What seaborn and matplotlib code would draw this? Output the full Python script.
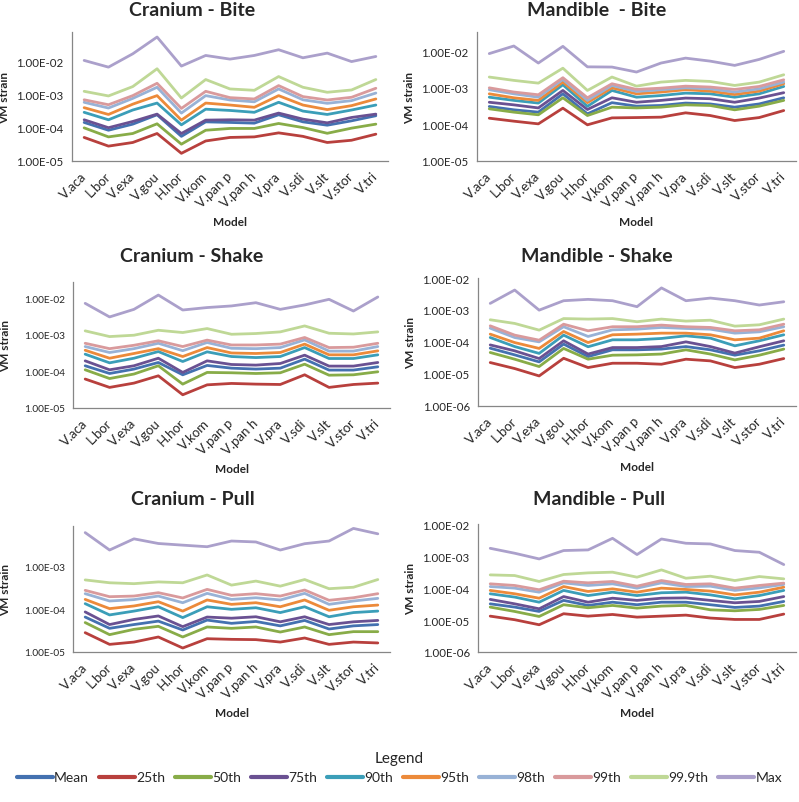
import seaborn as sns
import matplotlib.pyplot as plt
import matplotlib.ticker as mticker
import pandas as pd

models = ["V.aca", "L.bor", "V.exa", "V.gou", "H.hor", "V.kom", "V.pan p",
          "V.pan h", "V.pra", "V.sdi", "V.slt", "V.stor", "V.tri"]
stats = ["Mean", "25th", "50th", "75th", "90th", "95th", "98th", "99th", "99.9th", "Max"]

# VM strain per statistic, one value per model
cranium_bite = {
    "Mean":   [1.44e-4, 8.4e-5, 1.28e-4, 2.45e-4, 5.5e-5, 1.5e-4, 1.44e-4, 1.37e-4, 2.45e-4, 1.5e-4, 1.19e-4, 1.61e-4, 2.29e-4],
    "25th":   [5.1e-5, 2.8e-5, 3.6e-5, 6.7e-5, 1.7e-5, 4.0e-5, 5.1e-5, 5.3e-5, 7.0e-5, 5.5e-5, 3.6e-5, 4.2e-5, 6.4e-5],
    "50th":   [9.9e-5, 5.3e-5, 6.7e-5, 1.31e-4, 3.2e-5, 8.4e-5, 9.5e-5, 9.5e-5, 1.34e-4, 1.01e-4, 6.8e-5, 9.7e-5, 1.28e-4],
    "75th":   [1.73e-4, 1.0e-4, 1.54e-4, 2.56e-4, 6.7e-5, 1.69e-4, 1.73e-4, 1.69e-4, 2.75e-4, 1.81e-4, 1.4e-4, 2.03e-4, 2.56e-4],
    "90th":   [2.9e-4, 1.73e-4, 3.4e-4, 5.5e-4, 1.22e-4, 3.6e-4, 3.3e-4, 2.9e-4, 5.8e-4, 3.16e-4, 2.5e-4, 3.4e-4, 4.8e-4],
    "95th":   [4.0e-4, 2.5e-4, 5.1e-4, 9.2e-4, 1.69e-4, 5.5e-4, 4.8e-4, 4.1e-4, 9.2e-4, 4.8e-4, 3.5e-4, 4.6e-4, 7.3e-4],
    "98th":   [5.8e-4, 3.9e-4, 7.6e-4, 1.64e-3, 2.75e-4, 9.2e-4, 6.8e-4, 6.0e-4, 1.46e-3, 6.9e-4, 5.4e-4, 6.5e-4, 1.1e-3],
    "99th":   [6.9e-4, 4.9e-4, 9.2e-4, 2.16e-3, 3.8e-4, 1.24e-3, 8.0e-4, 7.3e-4, 1.84e-3, 8.6e-4, 6.8e-4, 8.2e-4, 1.53e-3],
    "99.9th": [1.24e-3, 9.0e-4, 1.72e-3, 5.9e-3, 7.8e-4, 2.8e-3, 1.46e-3, 1.33e-3, 3.44e-3, 1.64e-3, 1.16e-3, 1.36e-3, 2.8e-3],
    "Max":    [1.05e-2, 6.6e-3, 1.66e-2, 5.3e-2, 7.1e-3, 1.48e-2, 1.15e-2, 1.48e-2, 2.2e-2, 1.26e-2, 1.74e-2, 9.7e-3, 1.38e-2],
}
mandible_bite = {
    "Mean":   [3.07e-4, 2.49e-4, 2.15e-4, 6.8e-4, 1.93e-4, 3.9e-4, 3.13e-4, 3.27e-4, 3.8e-4, 3.6e-4, 2.94e-4, 3.6e-4, 5.3e-4],
    "25th":   [1.47e-4, 1.22e-4, 1.03e-4, 2.76e-4, 9.7e-5, 1.5e-4, 1.53e-4, 1.57e-4, 2.06e-4, 1.74e-4, 1.27e-4, 1.53e-4, 2.38e-4],
    "50th":   [2.65e-4, 2.15e-4, 1.82e-4, 5.3e-4, 1.74e-4, 2.94e-4, 2.8e-4, 2.94e-4, 3.4e-4, 3.27e-4, 2.49e-4, 3.13e-4, 4.5e-4],
    "75th":   [4.0e-4, 3.4e-4, 2.8e-4, 8.4e-4, 2.54e-4, 5.3e-4, 4.0e-4, 4.5e-4, 5.2e-4, 5.0e-4, 4.0e-4, 5.2e-4, 7.3e-4],
    "90th":   [5.5e-4, 4.5e-4, 3.8e-4, 1.2e-3, 3.1e-4, 8.4e-4, 5.5e-4, 6.1e-4, 7.1e-4, 6.8e-4, 5.5e-4, 6.8e-4, 1.08e-3],
    "95th":   [6.8e-4, 5.3e-4, 4.5e-4, 1.42e-3, 3.9e-4, 9.9e-4, 6.8e-4, 7.6e-4, 8.8e-4, 8.05e-4, 6.5e-4, 8.05e-4, 1.28e-3],
    "98th":   [8.8e-4, 6.8e-4, 5.5e-4, 1.68e-3, 4.5e-4, 1.15e-3, 7.9e-4, 8.8e-4, 9.9e-4, 9.3e-4, 7.6e-4, 9.3e-4, 1.42e-3],
    "99th":   [9.9e-4, 7.6e-4, 6.4e-4, 1.87e-3, 5.3e-4, 1.28e-3, 8.95e-4, 9.7e-4, 1.1e-3, 1.04e-3, 8.95e-4, 1.08e-3, 1.64e-3],
    "99.9th": [1.95e-3, 1.58e-3, 1.33e-3, 3.4e-3, 8.4e-4, 1.95e-3, 1.1e-3, 1.42e-3, 1.58e-3, 1.48e-3, 1.15e-3, 1.42e-3, 2.25e-3],
    "Max":    [8.5e-3, 1.37e-2, 4.7e-3, 1.34e-2, 3.7e-3, 3.65e-3, 2.67e-3, 4.7e-3, 6.4e-3, 5.3e-3, 4.05e-3, 5.9e-3, 9.8e-3],
}
cranium_shake = {
    "Mean":   [1.43e-4, 8.8e-5, 1.16e-4, 1.76e-4, 8.1e-5, 1.46e-4, 1.23e-4, 1.16e-4, 1.23e-4, 2.17e-4, 1.09e-4, 1.09e-4, 1.34e-4],
    "25th":   [6.2e-5, 3.66e-5, 4.8e-5, 7.6e-5, 2.3e-5, 4.3e-5, 4.7e-5, 4.5e-5, 4.4e-5, 8.1e-5, 3.66e-5, 4.4e-5, 4.8e-5],
    "50th":   [1.11e-4, 6.4e-5, 8.5e-5, 1.43e-4, 4.5e-5, 9.4e-5, 9.2e-5, 8.8e-5, 9.2e-5, 1.58e-4, 7.9e-5, 8.1e-5, 9.8e-5],
    "75th":   [1.95e-4, 1.11e-4, 1.43e-4, 2.3e-4, 9.4e-5, 1.95e-4, 1.55e-4, 1.49e-4, 1.65e-4, 2.79e-4, 1.4e-4, 1.4e-4, 1.76e-4],
    "90th":   [2.97e-4, 1.72e-4, 2.3e-4, 3.5e-4, 1.87e-4, 3.44e-4, 2.56e-4, 2.4e-4, 2.56e-4, 4.5e-4, 2.26e-4, 2.26e-4, 2.85e-4],
    "95th":   [3.8e-4, 2.3e-4, 3.1e-4, 4.2e-4, 2.56e-4, 4.5e-4, 3.2e-4, 3.1e-4, 3.3e-4, 5.6e-4, 2.85e-4, 2.85e-4, 3.66e-4],
    "98th":   [4.8e-4, 3.3e-4, 4.2e-4, 5.9e-4, 3.7e-4, 6.2e-4, 4.3e-4, 4.2e-4, 4.5e-4, 7.3e-4, 3.6e-4, 3.6e-4, 4.8e-4],
    "99th":   [5.9e-4, 4.2e-4, 5.2e-4, 6.9e-4, 4.8e-4, 7.2e-4, 5.3e-4, 5.3e-4, 5.6e-4, 8.5e-4, 4.5e-4, 4.6e-4, 5.9e-4],
    "99.9th": [1.29e-3, 9.0e-4, 9.8e-4, 1.34e-3, 1.16e-3, 1.49e-3, 1.04e-3, 1.09e-3, 1.21e-3, 1.76e-3, 1.11e-3, 1.06e-3, 1.21e-3],
    "Max":    [7.3e-3, 3.1e-3, 5.0e-3, 1.23e-2, 4.8e-3, 5.6e-3, 6.2e-3, 7.6e-3, 5.0e-3, 6.6e-3, 9.4e-3, 4.5e-3, 1.09e-2],
}
mandible_shake = {
    "Mean":   [6.4e-5, 3.96e-5, 2.39e-5, 8.6e-5, 3.5e-5, 5.7e-5, 5.7e-5, 6.0e-5, 7.2e-5, 5.7e-5, 3.87e-5, 5.3e-5, 8.0e-5],
    "25th":   [2.28e-5, 1.48e-5, 8.7e-6, 3.1e-5, 1.59e-5, 2.17e-5, 2.17e-5, 2.02e-5, 2.9e-5, 2.57e-5, 1.59e-5, 2.02e-5, 3.04e-5],
    "50th":   [4.7e-5, 2.9e-5, 1.71e-5, 6.3e-5, 2.9e-5, 3.87e-5, 3.96e-5, 4.2e-5, 5.7e-5, 4.2e-5, 2.76e-5, 3.87e-5, 6.0e-5],
    "75th":   [8.1e-5, 5.3e-5, 3.04e-5, 1.09e-4, 4.2e-5, 6.7e-5, 6.7e-5, 7.2e-5, 1.01e-4, 7.2e-5, 4.5e-5, 7.1e-5, 1.09e-4],
    "90th":   [1.38e-4, 7.2e-5, 4.4e-5, 1.64e-4, 7.1e-5, 1.17e-4, 1.17e-4, 1.29e-4, 1.56e-4, 1.32e-4, 7.6e-5, 1.09e-4, 1.68e-4],
    "95th":   [1.76e-4, 9.6e-5, 6.3e-5, 2.13e-4, 9.6e-5, 1.68e-4, 1.76e-4, 1.89e-4, 1.89e-4, 1.68e-4, 1.17e-4, 1.32e-4, 2.24e-4],
    "98th":   [2.7e-4, 1.38e-4, 1.01e-4, 3.0e-4, 1.49e-4, 2.4e-4, 2.52e-4, 2.85e-4, 2.65e-4, 2.52e-4, 1.89e-4, 2.08e-4, 3.0e-4],
    "99th":   [3.2e-4, 1.64e-4, 1.14e-4, 3.6e-4, 2.24e-4, 3.0e-4, 3.0e-4, 3.37e-4, 3.0e-4, 2.85e-4, 2.24e-4, 2.4e-4, 3.6e-4],
    "99.9th": [4.95e-4, 3.8e-4, 2.35e-4, 5.4e-4, 5.2e-4, 5.4e-4, 4.3e-4, 5.2e-4, 4.5e-4, 4.8e-4, 3.13e-4, 3.45e-4, 5.2e-4],
    "Max":    [1.61e-3, 4.2e-3, 9.9e-4, 1.95e-3, 2.15e-3, 1.95e-3, 1.27e-3, 4.9e-3, 1.95e-3, 2.36e-3, 1.95e-3, 1.43e-3, 1.81e-3],
}
cranium_pull = {
    "Mean":   [6.6e-5, 3.59e-5, 4.4e-5, 5.3e-5, 3.28e-5, 5.6e-5, 4.7e-5, 5.2e-5, 4.1e-5, 5.5e-5, 3.46e-5, 4.1e-5, 4.4e-5],
    "25th":   [2.84e-5, 1.51e-5, 1.71e-5, 2.25e-5, 1.24e-5, 2.05e-5, 1.98e-5, 1.95e-5, 1.71e-5, 2.13e-5, 1.51e-5, 1.71e-5, 1.63e-5],
    "50th":   [4.9e-5, 2.55e-5, 3.4e-5, 4.0e-5, 2.25e-5, 3.86e-5, 3.59e-5, 3.86e-5, 2.94e-5, 3.86e-5, 2.55e-5, 3.0e-5, 3.0e-5],
    "75th":   [8.7e-5, 4.4e-5, 5.8e-5, 7.0e-5, 3.93e-5, 6.6e-5, 6.2e-5, 6.7e-5, 5.1e-5, 6.7e-5, 4.4e-5, 5.1e-5, 5.5e-5],
    "90th":   [1.36e-4, 7.4e-5, 9.1e-5, 1.15e-4, 6.4e-5, 1.15e-4, 1.0e-4, 1.09e-4, 8.4e-5, 1.15e-4, 6.7e-5, 8.4e-5, 9.1e-5],
    "95th":   [1.71e-4, 1.04e-4, 1.2e-4, 1.51e-4, 9.1e-5, 1.66e-4, 1.31e-4, 1.43e-4, 1.15e-4, 1.66e-4, 9.5e-5, 1.15e-4, 1.26e-4],
    "98th":   [2.33e-4, 1.57e-4, 1.69e-4, 2.05e-4, 1.43e-4, 2.37e-4, 1.71e-4, 1.87e-4, 1.66e-4, 2.37e-4, 1.31e-4, 1.57e-4, 1.81e-4],
    "99th":   [2.79e-4, 1.98e-4, 2.05e-4, 2.46e-4, 1.85e-4, 2.94e-4, 2.13e-4, 2.33e-4, 2.05e-4, 2.84e-4, 1.63e-4, 1.87e-4, 2.33e-4],
    "99.9th": [4.9e-4, 4.2e-4, 4.0e-4, 4.4e-4, 4.2e-4, 6.4e-4, 3.7e-4, 4.6e-4, 3.5e-4, 5.0e-4, 3.05e-4, 3.3e-4, 5.0e-4],
    "Max":    [6.3e-3, 2.46e-3, 4.5e-3, 3.5e-3, 3.2e-3, 2.94e-3, 4.0e-3, 3.8e-3, 2.46e-3, 3.46e-3, 4.0e-3, 7.9e-3, 5.9e-3],
}
mandible_pull = {
    "Mean":   [3.2e-5, 2.53e-5, 1.85e-5, 4.1e-5, 2.85e-5, 3.6e-5, 3.0e-5, 3.6e-5, 3.6e-5, 3.0e-5, 2.47e-5, 2.72e-5, 3.8e-5],
    "25th":   [1.32e-5, 1.02e-5, 7.1e-6, 1.57e-5, 1.32e-5, 1.49e-5, 1.23e-5, 1.32e-5, 1.42e-5, 1.15e-5, 1.04e-5, 1.04e-5, 1.53e-5],
    "50th":   [2.53e-5, 1.85e-5, 1.29e-5, 3.0e-5, 2.41e-5, 2.85e-5, 2.35e-5, 2.72e-5, 2.85e-5, 2.08e-5, 1.94e-5, 2.14e-5, 2.85e-5],
    "75th":   [4.4e-5, 3.2e-5, 2.24e-5, 5.4e-5, 3.6e-5, 4.8e-5, 4.1e-5, 4.8e-5, 4.9e-5, 4.1e-5, 3.45e-5, 3.8e-5, 5.4e-5],
    "90th":   [6.6e-5, 5.2e-5, 3.6e-5, 8.4e-5, 5.8e-5, 7.4e-5, 5.8e-5, 7.1e-5, 7.4e-5, 6.1e-5, 4.6e-5, 5.8e-5, 8.4e-5],
    "95th":   [8.4e-5, 6.6e-5, 4.8e-5, 1.11e-4, 7.8e-5, 9.4e-5, 7.4e-5, 9.9e-5, 9.0e-5, 8.0e-5, 6.1e-5, 7.4e-5, 1.06e-4],
    "98th":   [1.11e-4, 9.9e-5, 7.4e-5, 1.45e-4, 1.2e-4, 1.35e-4, 9.9e-5, 1.45e-4, 1.11e-4, 1.14e-4, 8.4e-5, 1.01e-4, 1.29e-4],
    "99th":   [1.35e-4, 1.2e-4, 8.8e-5, 1.63e-4, 1.45e-4, 1.6e-4, 1.14e-4, 1.71e-4, 1.29e-4, 1.35e-4, 9.9e-5, 1.2e-4, 1.42e-4],
    "99.9th": [2.57e-4, 2.45e-4, 1.6e-4, 2.64e-4, 2.97e-4, 3.12e-4, 2.18e-4, 3.68e-4, 2.02e-4, 2.34e-4, 1.71e-4, 2.28e-4, 1.93e-4],
    "Max":    [1.74e-3, 1.22e-3, 8.1e-4, 1.48e-3, 1.55e-3, 3.57e-3, 1.11e-3, 3.4e-3, 2.5e-3, 2.38e-3, 1.48e-3, 1.31e-3, 5.4e-4],
}

palette = {
    "Mean": "#4471B0", "25th": "#B8403D", "50th": "#88AC48", "75th": "#6A5192",
    "90th": "#3B9EB8", "95th": "#EC8A3A", "98th": "#98B2D6", "99th": "#D99A9C",
    "99.9th": "#BFD896", "Max": "#ABA0CB",
}

sns.set_style("white")
plt.rcParams["font.family"] = ["Lato", "DejaVu Sans"]

fig = plt.figure(figsize=(7.99, 8.03), dpi=100)
W, H = 799, 803

# (title, data, ax box px [l, t, r, b], ylim, title centre px, yticks, ytick size)
panels = [
    ("Cranium - Bite", cranium_bite, (72, 33, 388, 162), (1e-5, 0.075), (192, 10), [1e-5, 1e-4, 1e-3, 1e-2], 8.3),
    ("Mandible  - Bite", mandible_bite, (477, 33, 796, 162), (1e-5, 0.033), (597, 10), [1e-5, 1e-4, 1e-3, 1e-2], 8.3),
    ("Cranium - Shake", cranium_shake, (73, 283, 390, 409), (1e-5, 0.028), (192, 257), [1e-5, 1e-4, 1e-3, 1e-2], 7.3),
    ("Mandible - Shake", mandible_shake, (478, 279, 796, 407), (1e-6, 1e-2), (597, 257), [1e-6, 1e-5, 1e-4, 1e-3, 1e-2], 8.3),
    ("Cranium - Pull", cranium_pull, (73, 527, 390, 653), (1e-5, 0.009), (193, 500), [1e-5, 1e-4, 1e-3], 7.3),
    ("Mandible - Pull", mandible_pull, (478, 525, 796, 653), (1e-6, 1e-2), (599, 500), [1e-6, 1e-5, 1e-4, 1e-3, 1e-2], 8.3),
]

for title, data, (l, t, r, b), ylim, (tx, ty), yticks, ysize in panels:
    ax = fig.add_axes([l / W, 1 - b / H, (r - l) / W, (b - t) / H])
    df = pd.DataFrame([
        {"Model": m, "Strain": v, "Stat": s}
        for s in stats for m, v in zip(models, data[s])
    ])
    sns.lineplot(data=df, x="Model", y="Strain", hue="Stat", hue_order=stats,
                 palette=palette, linewidth=2.0, sort=False, legend=False, ax=ax)
    ax.set_yscale("log")
    ax.set_ylim(*ylim)
    ax.set_xlim(-0.5, len(models) - 0.5)
    ax.yaxis.set_major_locator(mticker.FixedLocator(yticks))
    ax.yaxis.set_minor_locator(mticker.NullLocator())
    ax.yaxis.set_major_formatter(mticker.FuncFormatter(lambda v, p: f"{v:.2E}"))
    ax.set_xticks(range(len(models)))
    ax.set_xticklabels(models, rotation=45, ha="right", va="center",
                       rotation_mode="anchor", fontsize=9.5)
    ax.xaxis.set_minor_locator(mticker.FixedLocator([i + 0.5 for i in range(-1, len(models))]))
    ax.tick_params(axis="x", which="major", length=0, pad=9)
    ax.tick_params(axis="x", which="minor", length=4, color="#868686", direction="out")
    ax.tick_params(axis="y", which="major", length=4, color="#868686", direction="out",
                   labelsize=ysize, pad=2)
    for side in ["top", "right"]:
        ax.spines[side].set_visible(False)
    for side in ["left", "bottom"]:
        ax.spines[side].set_color("#868686")
        ax.spines[side].set_linewidth(0.9)
    ax.set_ylabel("VM strain", fontsize=8.5, fontweight="bold")
    ax.yaxis.set_label_coords(-62 / (r - l), 0.5)
    ax.set_xlabel("Model", fontsize=8.5, fontweight="bold")
    ax.xaxis.set_label_coords(0.5, -55 / (b - t))
    fig.text(tx / W, 1 - ty / H, title, ha="center", va="center",
             fontsize=14, fontweight="bold")

handles = [plt.Line2D([], [], color=palette[s], linewidth=3) for s in stats]
leg = fig.legend(handles, stats, loc="center", bbox_to_anchor=(0.5, 1 - 768 / H),
                 ncol=10, frameon=False, title="Legend", fontsize=10,
                 title_fontsize=11, handlelength=2.6, handletextpad=0.1,
                 columnspacing=0.7, borderpad=0.2)

plt.savefig("out.png", dpi=100)
